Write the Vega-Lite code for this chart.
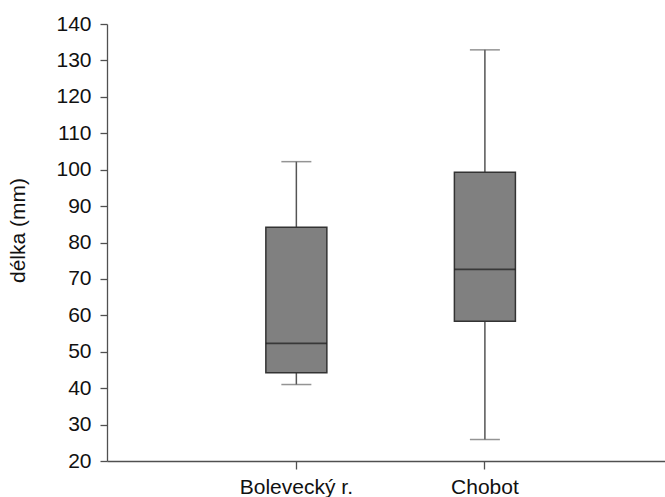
{
  "$schema": "https://vega.github.io/schema/vega-lite/v6.json",
  "width": 558,
  "height": 437,
  "autosize": "none",
  "padding": {"left": 107, "top": 24, "right": 0, "bottom": 36},
  "background": "white",
  "config": {
    "view": {"stroke": null},
    "font": "Liberation Sans",
    "axis": {
      "grid": false,
      "domainColor": "#505050",
      "domainWidth": 1.3,
      "tickColor": "#505050",
      "tickWidth": 1.3,
      "labelFont": "Liberation Sans",
      "labelFontSize": 21,
      "labelColor": "#111111",
      "labelOverlap": false,
      "labelFlush": false,
      "titleFont": "Liberation Sans",
      "titleFontSize": 21,
      "titleFontWeight": "normal",
      "titleColor": "#111111"
    },
    "axisY": {
      "values": [20, 25, 30, 35, 40, 45, 50, 55, 60, 65, 70, 75, 80, 85, 90, 95, 100, 105, 110, 115, 120, 125, 130, 135, 140],
      "labelExpr": "(datum.value % 10 == 0) ? datum.label : ''",
      "labelOverlap": false,
      "labelBound": false,
      "tickSize": 7,
      "labelPadding": 9,
      "titlePadding": 27,
      "titleY": 206
    }
  },
  "data": {
    "values": [
      {"site": "Bolevecký r.", "min": 41.0, "q1": 44.2, "median": 52.3, "q3": 84.2, "max": 102.2},
      {"site": "Chobot", "min": 25.9, "q1": 58.4, "median": 72.6, "q3": 99.3, "max": 132.9}
    ]
  },
  "encoding": {
    "x": {
      "field": "site",
      "type": "nominal",
      "sort": null,
      "scale": {"type": "band", "paddingInner": 0.6764, "paddingOuter": 0.818, "align": 0.515},
      "axis": {"title": null, "labelAngle": 0, "tickSize": 8, "labelPadding": 7, "domain": true}
    }
  },
  "layer": [
    {
      "mark": {"type": "rule", "color": "#555555", "strokeWidth": 1.5},
      "encoding": {
        "y": {
          "field": "min",
          "type": "quantitative",
          "title": "délka (mm)",
          "scale": {"domain": [20, 140], "nice": false, "zero": false}
        },
        "y2": {"field": "max"}
      }
    },
    {
      "mark": {"type": "tick", "color": "#666666", "size": 30, "thickness": 1.5},
      "encoding": {"y": {"field": "min", "type": "quantitative", "title": "délka (mm)"}}
    },
    {
      "mark": {"type": "tick", "color": "#666666", "size": 30, "thickness": 1.5},
      "encoding": {"y": {"field": "max", "type": "quantitative", "title": "délka (mm)"}}
    },
    {
      "mark": {"type": "bar", "fill": "#808080", "stroke": "#333333", "strokeWidth": 1.5},
      "encoding": {
        "y": {"field": "q1", "type": "quantitative", "title": "délka (mm)"},
        "y2": {"field": "q3"}
      }
    },
    {
      "mark": {"type": "tick", "color": "#1a1a1a", "thickness": 1.7, "size": 61},
      "encoding": {"y": {"field": "median", "type": "quantitative", "title": "délka (mm)"}}
    }
  ]
}
